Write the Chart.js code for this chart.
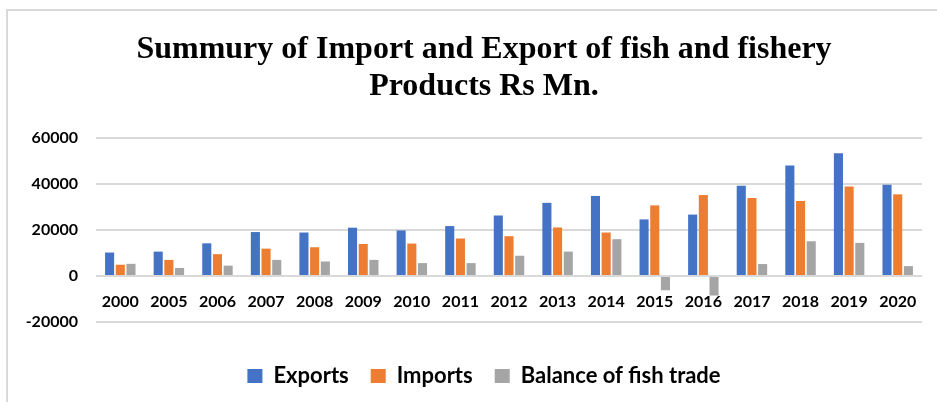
<!DOCTYPE html>
<html>
<head>
<meta charset="utf-8">
<script src="https://cdn.jsdelivr.net/npm/chart.js@4"></script>
<style>
  html, body { margin: 0; padding: 0; background: #fff; }
  body { width: 937px; height: 402px; position: relative; overflow: hidden; }
  #frame { position: absolute; left: 6px; top: 9px; right: -4px; bottom: -4px; border-top: 2px solid #d9d9d9; border-left: 2px solid #d9d9d9; }
  #wrap { position: absolute; left: 0; top: 0; width: 961px; height: 402px; }
</style>
</head>
<body>
<div id="frame"></div>
<div id="wrap"><canvas id="chart"></canvas></div>
<script>
// datos (Rs Mn)
const YEARS = ["2000","2005","2006","2007","2008","2009","2010","2011","2012","2013","2014","2015","2016","2017","2018","2019","2020"];
const EXPORTS = [10200, 10600, 14200, 19100, 18900, 21000, 19800, 21700, 26300, 31800, 34800, 24600, 26700, 39200, 48000, 53400, 39700];
const IMPORTS = [4900, 7000, 9500, 11900, 12500, 13900, 14100, 16300, 17300, 21100, 18900, 30700, 35200, 33900, 32600, 38900, 35500];
const BALANCE = [5300, 3500, 4500, 7000, 6300, 7000, 5600, 5600, 8800, 10600, 16000, -6200, -8500, 5200, 15100, 14400, 4300];
const TITLE = ["Summury of Import and Export of fish and fishery", "Products Rs Mn."];

const labelFont = { family: "Lato, 'Open Sans', sans-serif", size: 16, weight: "bold" };
const hidden = { grid: { display: false }, border: { display: false }, ticks: { display: false } };

new Chart(document.getElementById("chart"), {
  type: "bar",
  data: {
    labels: YEARS,
    datasets: [
      { label: "Exports", data: EXPORTS, backgroundColor: "#4472C4", xAxisID: "x", yAxisID: "y" },
      { label: "Imports", data: IMPORTS, backgroundColor: "#ED7D31", xAxisID: "x", yAxisID: "y" },
      { label: "Balance of fish trade", data: BALANCE, backgroundColor: "#A5A5A5", xAxisID: "x", yAxisID: "y" },
    ],
  },
  options: {
    responsive: true, maintainAspectRatio: false, animation: false,
    layout: { padding: { left: 22, right: 15, top: 0, bottom: 5 } },
    datasets: { bar: { categoryPercentage: 0.66, barPercentage: 0.85 } },
    plugins: {
      title: {
        display: true, text: TITLE, color: "#000",
        font: { family: "'Liberation Serif', 'Times New Roman', serif", size: 32, weight: "bold", lineHeight: 1.156 },
        padding: { top: 31, bottom: 33 },
      },
      legend: {
        position: "bottom",
        labels: { color: "#000", font: { family: "Lato, 'Open Sans', sans-serif", size: 22, weight: "bold" }, boxWidth: 15, boxHeight: 14, padding: 22 },
      },
      tooltip: { enabled: false },
    },
    scales: {
      x: {
        position: { y: 0 },
        grid: { display: false }, border: { display: false },
        ticks: { color: "#000", font: labelFont, padding: 8, maxRotation: 0, autoSkip: false },
      },
      y: {
        min: -20000, max: 60000,
        grid: { color: "#d9d9d9", lineWidth: 2, drawTicks: false },
        border: { display: false },
        ticks: { stepSize: 20000, color: "#000", font: labelFont, padding: 18, callback: v => String(v) },
        afterFit: s => { s.width = 74; },
      },
      // espaciadores (sin marcas)
      gap: { type: "category", position: "bottom", ...hidden, afterFit: s => { s.height = 21; } },
      gapR: { type: "category", position: "right", ...hidden, afterFit: s => { s.width = 24; } },
    },
  },
});
</script>
</body>
</html>
